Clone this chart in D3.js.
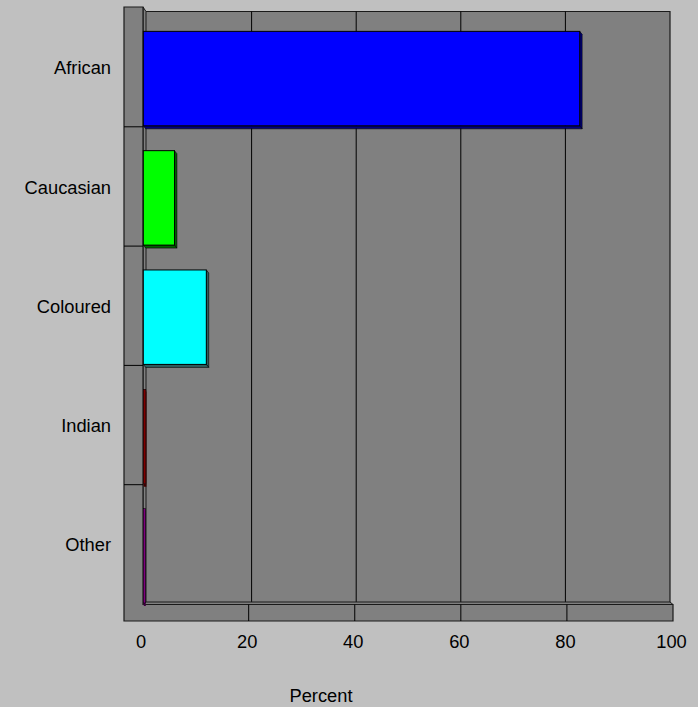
<!DOCTYPE html>
<html>
<head>
<meta charset="utf-8">
<script src="https://cdn.jsdelivr.net/npm/d3@7"></script>
<style>
  html, body { margin: 0; padding: 0; background: #c0c0c0; }
  svg { display: block; }
  text { font-family: Arial, "Liberation Sans", sans-serif; fill: #000; }
</style>
</head>
<body>
<script>
// Population group shares (percent)
const categories = ["African", "Caucasian", "Coloured", "Indian", "Other"];
const values = [82.3, 5.9, 11.9, 0.5, 0.4];
const faceColors = ["#0000ff", "#00ff00", "#00ffff", "#800000", "#800080"];
const sideColors = ["#000080", "#006000", "#2f5f5f", "#400000", "#400040"];
const tickValues = [0, 20, 40, 60, 80, 100];
const axisTitle = "Percent";

(function draw() {
  const W = 698, H = 707;
  const depthX = 3, depthY = 3;

  const svg = d3.select("body").append("svg")
    .attr("width", W).attr("height", H);

  svg.append("rect").attr("width", W).attr("height", H).attr("fill", "#c0c0c0");

  // Scales: front edge of the floor, back wall, and category bands
  const xFront = d3.scaleLinear().domain([0, 100]).range([142.6, 673]);
  const xBack = d3.scaleLinear().domain([0, 100]).range([147, 670]);
  const y = d3.scaleBand().domain(categories).range([7.5, 604]);

  const wallLeft = 124, wallRight = 143;
  const wallTop = 7, backTop = 11.5, floorTop = 602, floorFront = 604.5, floorBottom = 621;
  const edge = "#1a1a1a";
  const fill = "#808080";

  // Back wall
  svg.append("rect")
    .attr("x", wallRight + depthX).attr("y", backTop)
    .attr("width", xBack(100) - (wallRight + depthX)).attr("height", floorTop - backTop)
    .attr("fill", fill);
  svg.append("path")
    .attr("d", `M${wallRight + depthX},${backTop}H${xBack(100)}V${floorTop}`)
    .attr("fill", "none").attr("stroke", edge).attr("stroke-width", 1.2);

  // Gridlines on the back wall
  svg.selectAll("line.grid").data(tickValues.slice(1, -1)).join("line")
    .attr("class", "grid")
    .attr("x1", d => xBack(d)).attr("x2", d => xBack(d))
    .attr("y1", backTop).attr("y2", floorTop)
    .attr("stroke", "#000").attr("stroke-width", 1);

  // Side strip of the left wall and top strip of the floor
  svg.append("path")
    .attr("d", `M${wallRight},${wallTop}L${wallRight + depthX},${backTop}V${floorTop}L${wallRight},${floorFront}Z`)
    .attr("fill", fill).attr("stroke", edge).attr("stroke-width", 1);
  svg.append("path")
    .attr("d", `M${wallRight},${floorFront}L${wallRight + depthX},${floorTop}H${xBack(100)}L${xFront(100)},${floorFront}Z`)
    .attr("fill", fill).attr("stroke", edge).attr("stroke-width", 1);

  // Front faces of the wall and floor
  svg.append("path")
    .attr("d", `M${wallLeft},${wallTop}H${wallRight}V${floorFront}H${xFront(100)}V${floorBottom}H${wallLeft}Z`)
    .attr("fill", fill).attr("stroke", edge).attr("stroke-width", 1.2);

  // Category separators on the wall
  svg.selectAll("line.cat").data(categories.slice(1)).join("line")
    .attr("class", "cat")
    .attr("x1", wallLeft).attr("x2", wallRight)
    .attr("y1", d => y(d)).attr("y2", d => y(d))
    .attr("stroke", "#000").attr("stroke-width", 1);

  // Tick marks on the floor front
  svg.selectAll("line.ftick").data(tickValues.slice(1, -1)).join("line")
    .attr("class", "ftick")
    .attr("x1", d => xFront(d)).attr("x2", d => xFront(d))
    .attr("y1", floorFront).attr("y2", floorBottom)
    .attr("stroke", "#000").attr("stroke-width", 1);

  // Bars
  const bw = y.bandwidth();
  const bars = svg.append("g").selectAll("g").data(categories).join("g");
  bars.each(function(c, i) {
    const g = d3.select(this);
    const x0 = xFront(0) + 0.7, x1 = xFront(values[i]) + 0.6;
    const y0 = y(c) + bw * 0.2, y1 = y(c) + bw - 1;
    const thin = x1 - x0 < 6;
    const dx = thin ? 0.6 : depthX * 0.8;
    // right side
    g.append("path")
      .attr("d", `M${x1},${y0}L${x1 + dx},${y0 + depthY}V${y1 + depthY}L${x1},${y1}Z`)
      .attr("fill", sideColors[i]).attr("stroke", thin ? "none" : "#000").attr("stroke-width", 0.6);
    // bottom
    g.append("path")
      .attr("d", `M${x0},${y1}H${x1}L${x1 + dx},${y1 + depthY}H${x0 + dx}Z`)
      .attr("fill", sideColors[i]).attr("stroke", thin ? "none" : "#000").attr("stroke-width", 0.6);
    // face
    g.append("rect")
      .attr("x", x0).attr("y", y0)
      .attr("width", Math.max(0, x1 - x0)).attr("height", y1 - y0)
      .attr("fill", faceColors[i]).attr("stroke", "#000").attr("stroke-width", thin ? 0.5 : 1);
  });

  // Category labels
  svg.selectAll("text.cat").data(categories).join("text")
    .attr("class", "cat")
    .attr("x", 111).attr("y", d => y(d) + bw / 2 + 0.5)
    .attr("dy", "0.36em")
    .attr("text-anchor", "end")
    .attr("font-size", "18.3px")
    .text(d => d);

  // Tick labels
  svg.selectAll("text.tick").data(tickValues).join("text")
    .attr("class", "tick")
    .attr("x", d => xFront(d) - 1.5).attr("y", 647.7)
    .attr("text-anchor", "middle")
    .attr("font-size", "18.3px")
    .text(d => d);

  // Axis title
  svg.append("text")
    .attr("x", 321).attr("y", 701.7)
    .attr("text-anchor", "middle")
    .attr("font-size", "18.3px")
    .text(axisTitle);
})();
</script>
</body>
</html>
